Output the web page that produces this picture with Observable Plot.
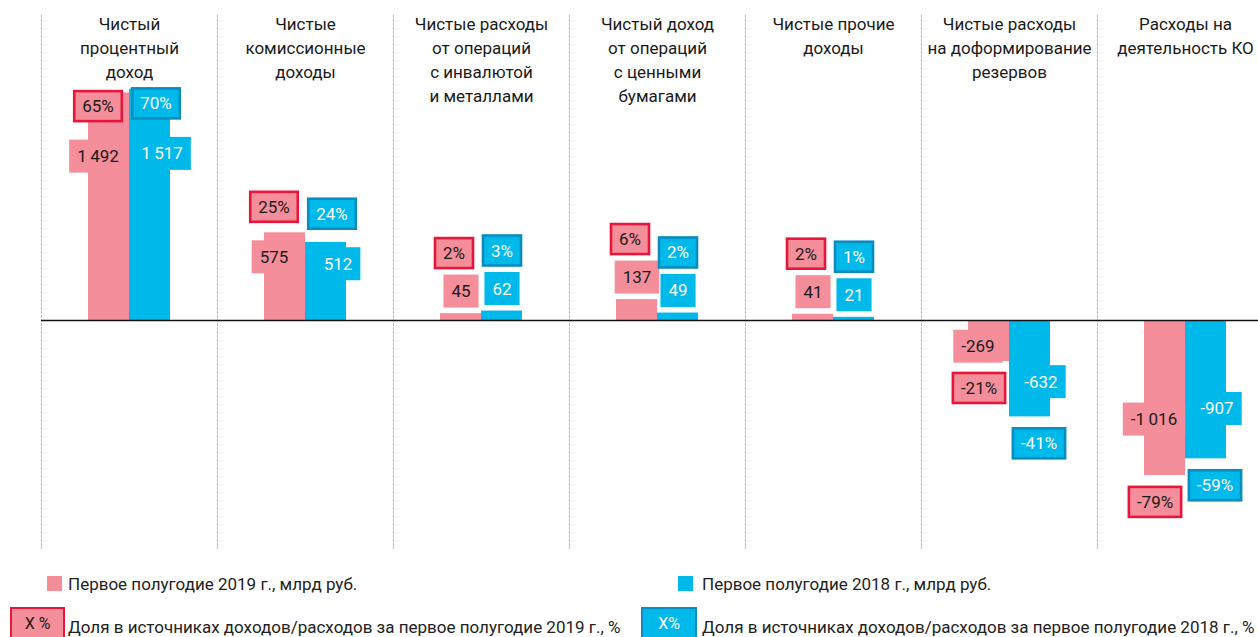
<!DOCTYPE html>
<html>
<head>
<meta charset="utf-8">
<script src="https://cdn.jsdelivr.net/npm/d3@7"></script>
<script src="https://cdn.jsdelivr.net/npm/@observablehq/plot@0.6"></script>
<style>
  html, body { margin: 0; padding: 0; background: #fff; overflow: hidden; width: 1258px; height: 637px; }
  #chart { position: absolute; left: 0; top: 0; }
  #chart svg { max-width: none !important; }
  .lg { position: absolute; font-family: Roboto, "Noto Sans", sans-serif; font-size: 17px; color: #222; white-space: nowrap; line-height: 20px; }
  .sw { position: absolute; box-sizing: border-box; font-family: Roboto, "Noto Sans", sans-serif; font-size: 16px; display: flex; align-items: center; justify-content: center; }
</style>
</head>
<body>
<div id="chart"></div>
<div id="legend"></div>
<script>
// ---------- data ----------
const categories = [
  "Чистый\nпроцентный\nдоход",
  "Чистые\nкомиссионные\nдоходы",
  "Чистые расходы\nот операций\nс инвалютой\nи металлами",
  "Чистый доход\nот операций\nс ценными\nбумагами",
  "Чистые прочие\nдоходы",
  "Чистые расходы\nна доформирование\nрезервов",
  "Расходы на\nдеятельность КО"
];
const seriesKeys = ["2019", "2018"];
const values2019 = [1492, 575, 45, 137, 41, -269, -1016];   // млрд руб.
const values2018 = [1517, 512, 62, 49, 21, -632, -907];     // млрд руб.
const shares2019 = [65, 25, 2, 6, 2, -21, -79];             // %
const shares2018 = [70, 24, 3, 2, 1, -41, -59];             // %
const legendValueLabels = ["Первое полугодие 2019 г., млрд руб.", "Первое полугодие 2018 г., млрд руб."];
const legendShareLabels = ["Доля в источниках доходов/расходов за первое полугодие 2019 г., %", "Доля в источниках доходов/расходов за первое полугодие 2018 г., %"];
const legendShareSamples = ["X %", "X%"];

// ---------- styles ----------
const fillColors = {"2019": "#f48e9a", "2018": "#00b9eb"};
const borderColors = {"2019": "#e8163b", "2018": "#0a8cbf"};
const textColors = {"2019": "#1a1a1a", "2018": "#ffffff"};
const FONT = "Roboto, 'Noto Sans', sans-serif";

const rows = [];
categories.forEach((c, i) => {
  rows.push({cat: c, series: "2019", value: values2019[i], share: shares2019[i]});
  rows.push({cat: c, series: "2018", value: values2018[i], share: shares2018[i]});
});

const fmtNum = v => (v < 0 ? "-" : "") + String(Math.abs(v)).replace(/\B(?=(\d{3})+(?!\d))/g, "\u2009");
const fmtPct = v => (v < 0 ? "-" : "") + Math.abs(v) + "%";

// label placement groups (small positive bars: labels stacked above; large: inside; negative: inside + below)
const groups = [
  {test: d => d.value > 0 && d.value < 300, vy: d => d.value, vdy: -22, py: d => d.value, pdy: -60,
   vdx: {"2019": 0, "2018": 0}, pdx: {"2019": -7, "2018": 0}},
  {test: d => d.value >= 300, vy: d => d.value * 0.72, vdy: 0, py: d => d.value * 0.72, pdy: -50,
   vdx: {"2019": -11, "2018": 12}, pdx: {"2019": -11, "2018": 6}},
  {test: d => d.value < 0, vy: d => d.value * 0.64, vdy: 0, py: d => d.value, pdy: 27,
   vdx: {"2019": -11, "2018": 11}, pdx: {"2019": -10, "2018": 9}}
];

const labelMarks = [];
groups.forEach(g => {
  seriesKeys.forEach(s => {
    const data = rows.filter(d => d.series === s && g.test(d));
    labelMarks.push(Plot.text(data, {
      fx: "cat", x: "series", y: g.vy, text: d => fmtNum(d.value),
      dx: g.vdx[s], dy: g.vdy, fill: textColors[s], fontSize: 17, fontFamily: FONT,
      ariaLabel: () => "value-" + s
    }));
    labelMarks.push(Plot.text(data, {
      fx: "cat", x: "series", y: g.py, text: d => fmtPct(d.share),
      dx: g.pdx[s], dy: g.pdy, fill: textColors[s], fontSize: 17, fontFamily: FONT,
      ariaLabel: () => "pct-" + s
    }));
  });
});

const chart = Plot.plot({
  width: 1273,
  height: 550,
  marginLeft: 41,
  marginRight: 0,
  marginTop: 15,
  marginBottom: 2,
  style: {background: "transparent", fontFamily: FONT, maxWidth: "none"},
  fx: {domain: categories, padding: 0, axis: null},
  x: {domain: seriesKeys, paddingInner: 0, paddingOuter: 1.1, axis: null},
  y: {domain: [-1495, 2000], axis: null},
  color: {domain: seriesKeys, range: seriesKeys.map(s => fillColors[s])},
  marks: [
    Plot.frame({anchor: "left", stroke: "#b8b8b8", strokeDasharray: "2,2"}),
    Plot.barY(rows, {fx: "cat", x: "series", y: "value", fill: "series"}),
    Plot.ruleY([0], {stroke: "#111", strokeWidth: 1.3}),
    Plot.text(categories, {fx: d => d, text: d => d, frameAnchor: "top", lineAnchor: "top",
      lineHeight: 1.42, fontSize: 17, dy: -3, fill: "#1a1a1a", fontFamily: FONT}),
    ...labelMarks
  ]
});
document.getElementById("chart").appendChild(chart);

// boxes behind labels
function boxify(sel, s, withBorder) {
  chart.querySelectorAll(`text[aria-label="${sel}"]`).forEach(function(el) {
    const bb = el.getBBox();
    const w = bb.width + 16;
    const h = withBorder ? 30 : 33;
    const cx = bb.x + bb.width / 2, cy = bb.y + bb.height / 2;
    const r = document.createElementNS("http://www.w3.org/2000/svg", "rect");
    r.setAttribute("x", cx - w / 2);
    r.setAttribute("y", cy - h / 2);
    r.setAttribute("width", w);
    r.setAttribute("height", h);
    r.setAttribute("fill", fillColors[s]);
    if (withBorder) { r.setAttribute("stroke", borderColors[s]); r.setAttribute("stroke-width", 2.6); }
    const t = el.getAttribute("transform");
    if (t) r.setAttribute("transform", t);
    el.parentNode.insertBefore(r, el);
  });
}
seriesKeys.forEach(s => { boxify("value-" + s, s, false); boxify("pct-" + s, s, true); });

// ---------- legend ----------
const lg = document.getElementById("legend");
function add(html, css, cls) {
  const el = document.createElement("div");
  el.className = cls;
  el.innerHTML = html;
  Object.assign(el.style, css);
  lg.appendChild(el);
}
const colX = [{sq: 47, box: 10, boxW: 55, text: 68}, {sq: 678, box: 641, boxW: 56, text: 702}];
seriesKeys.forEach((s, i) => {
  const c = colX[i];
  add("", {left: c.sq + "px", top: "576px", width: "15px", height: "15px", background: fillColors[s]}, "sw");
  add(legendValueLabels[i], {left: c.text + "px", top: "574px"}, "lg");
  add(legendShareSamples[i], {left: c.box + "px", top: "607px", width: c.boxW + "px", height: "32px",
    background: fillColors[s], border: "2px solid " + borderColors[s], color: textColors[s]}, "sw");
  add(legendShareLabels[i], {left: c.text + "px", top: "617px"}, "lg");
});
</script>
</body>
</html>
